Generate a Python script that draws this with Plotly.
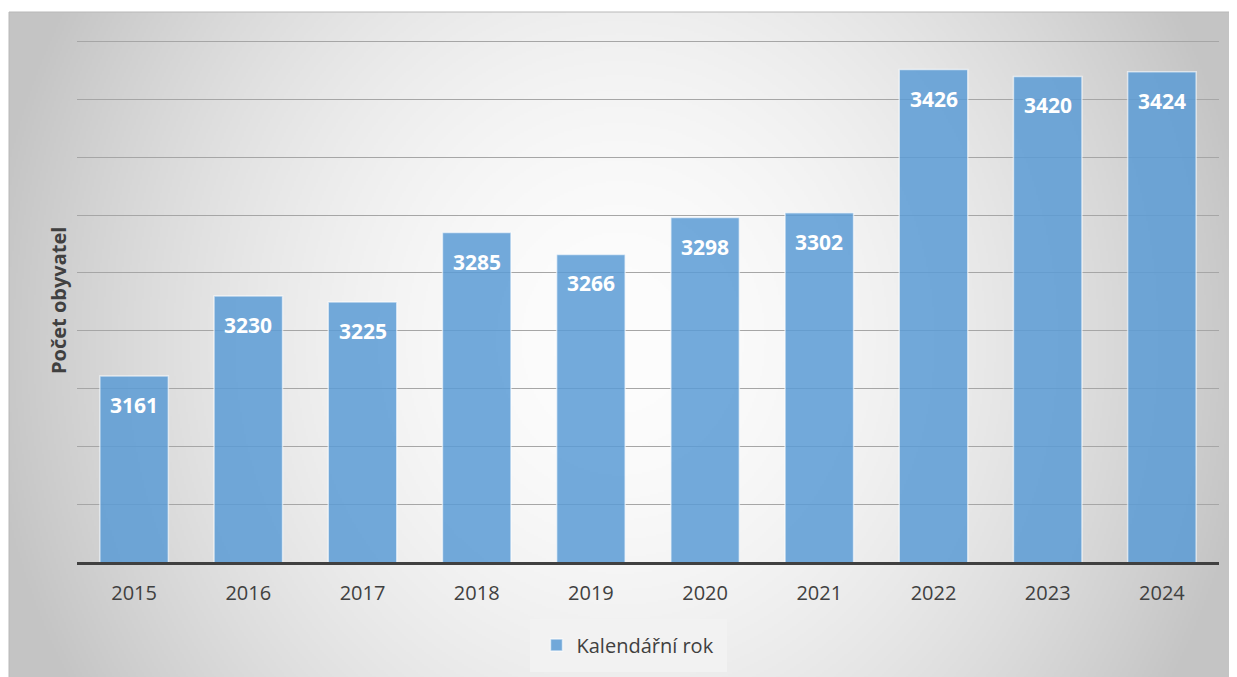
import base64
import struct
import zlib

import numpy as np
import plotly.graph_objects as go

# data
years = ['2015', '2016', '2017', '2018', '2019', '2020', '2021', '2022', '2023', '2024']
population = [3161, 3230, 3225, 3285, 3266, 3298, 3302, 3426, 3420, 3424]
series_name = 'Kalendářní rok'
y_title = 'Počet obyvatel'
y_range = [3000, 3455]

W, H = 1237, 677
OFF = 8  # page body margin, figure sits 8px in from the window corner
L, R, T, B = 69, 26, 28, 123
PW, PH = W - L - R, H - T - B

FONT = 'Open Sans'
TXT = '#404040'


def png_bytes(arr):
    """tiny png writer so the background gradient can go in as a data uri"""
    h, w, _ = arr.shape
    raw = b''.join(b'\x00' + arr[i].tobytes() for i in range(h))

    def chunk(tag, data):
        return (struct.pack('>I', len(data)) + tag + data
                + struct.pack('>I', zlib.crc32(tag + data) & 0xffffffff))

    return (b'\x89PNG\r\n\x1a\n'
            + chunk(b'IHDR', struct.pack('>IIBBBBB', w, h, 8, 2, 0, 0, 0))
            + chunk(b'IDAT', zlib.compress(raw, 9))
            + chunk(b'IEND', b''))


# positions below are in window pixels, converted to paper coords
def px_x(p):
    return (p - OFF - L) / PW


def px_y(p):
    return (H - B - (p - OFF)) / PH


# radial background, white in the middle, grey towards the sides
bx0, by0, bx1, by1 = 9, 12, 1245, 685
gx = np.linspace(bx0, bx1, (bx1 - bx0) // 2)
gy = np.linspace(by0, by1, (by1 - by0) // 2)
xx, yy = np.meshgrid(gx, gy)
t = np.sqrt(((xx - 620) / 640) ** 2 + ((yy - 340) / 700) ** 2)
t = np.clip(t, 0, 1) ** 1.8
shade = (253 - (253 - 196) * t).astype(np.uint8)
img = np.dstack([shade, shade, shade])
bg_uri = 'data:image/png;base64,' + base64.b64encode(png_bytes(img)).decode()

fig = go.Figure()
fig.add_trace(go.Bar(
    x=years, y=population, name=series_name,
    marker=dict(color='rgba(91,155,213,0.85)',
                line=dict(color='rgba(255,255,255,0.6)', width=1.5)),
    showlegend=True,
))

# value labels inside the top of each bar
# (numeric-looking strings on a category axis are read as indices by
# annotations, so pass the category index)
for i, val in enumerate(population):
    fig.add_annotation(x=i, y=val, text=f'<b>{val}</b>', showarrow=False,
                       yanchor='top', yshift=-13,
                       font=dict(family=FONT, size=21, color='white'))

fig.add_annotation(xref='paper', yref='paper', x=px_x(59), y=px_y(301),
                   xanchor='center', yanchor='middle',
                   text=f'<b>{y_title}</b>', textangle=-90, showarrow=False,
                   font=dict(family=FONT, size=20, color=TXT))

fig.add_layout_image(dict(source=bg_uri, xref='paper', yref='paper',
                          x=px_x(bx0), y=px_y(by0),
                          sizex=(bx1 - bx0) / PW, sizey=(by1 - by0) / PH,
                          xanchor='left', yanchor='top', sizing='stretch',
                          layer='below'))
fig.add_shape(type='rect', xref='paper', yref='paper',
              x0=px_x(bx0), y0=px_y(by1 + 5), x1=px_x(bx1 + 5), y1=px_y(by0),
              line=dict(color='#b8b8b8', width=1), layer='below')

fig.update_layout(
    width=W, height=H,
    margin=dict(l=L, r=R, t=T, b=B),
    paper_bgcolor='white', plot_bgcolor='rgba(0,0,0,0)',
    bargap=0.4,
    font=dict(family=FONT, color=TXT),
    legend=dict(orientation='h', x=px_x(628), y=px_y(645),
                xanchor='center', yanchor='middle',
                bgcolor='#f2f2f2', bordercolor='#f2f2f2', borderwidth=7,
                font=dict(size=20, color=TXT)),
    xaxis=dict(type='category', categoryorder='array', categoryarray=years,
               showline=True, linecolor='#404040', linewidth=3,
               ticks='', ticklabelstandoff=11,
               tickfont=dict(size=20, color=TXT), showgrid=False),
    yaxis=dict(range=y_range, dtick=50, showticklabels=False,
               showgrid=True, gridcolor='#a6a6a6', gridwidth=1,
               zeroline=False, showline=False),
)

fig.write_html('out.html')
